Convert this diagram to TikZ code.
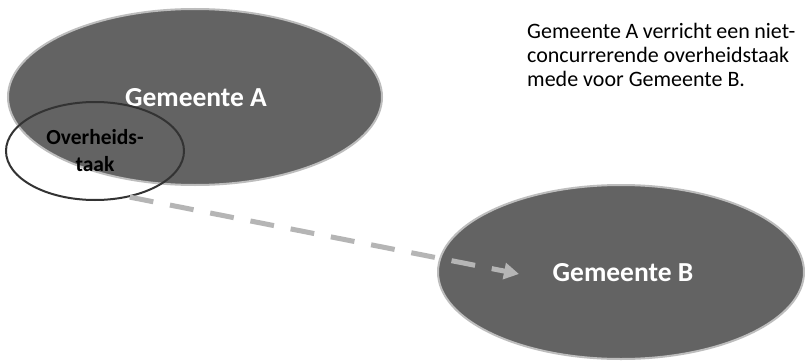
\documentclass[tikz,border=0pt]{standalone}
\usepackage{fontspec}
\setmainfont{Carlito}
\usetikzlibrary{shapes.geometric,arrows.meta}
\definecolor{ellfill}{HTML}{636363}
\definecolor{ellborder}{HTML}{BDBDBD}
\definecolor{arrgray}{HTML}{B5B5B5}
\tikzset{
  gemeente/.style={ellipse, draw=ellborder, line width=2pt, fill=ellfill, inner sep=0pt},
  gemlabel/.style={text=white, font=\bfseries\fontsize{27.5}{30}\selectfont},
  taakring/.style={ellipse, draw=black!80, line width=2pt, inner sep=0pt, align=center,
    font=\bfseries\fontsize{21.5}{27}\selectfont},
  flow/.style={draw=arrgray, line width=5pt, dash pattern=on 24pt off 17pt,
    -{Triangle[length=15pt,width=16pt]}},
  note/.style={align=left, inner sep=0pt, anchor=base west,
    font=\fontsize{22}{24}\selectfont}
}
\begin{document}
\begin{tikzpicture}[x=1pt,y=-1pt]
\useasboundingbox[fill=white] (0,0) rectangle (805,361);
\node[gemeente, minimum width=374pt, minimum height=176pt] (A) at (195,97) {};
\node[gemlabel] (Alab) at (196,98) {Gemeente A};
\node[gemeente, minimum width=366pt, minimum height=174pt] (B) at (621,272) {};
\node[gemlabel] (Blab) at (623,273) {Gemeente B};
\node[taakring, minimum width=178pt, minimum height=98pt] (ov) at (95,151) {Overheids-\\taak};
\coordinate (tip) at (519,274);
\draw[flow] (ov.-53) -- (tip);
\node[note] (txt) at (527,86) {\makebox[268pt][s]{Gemeente A verricht een niet-}\\concurrerende overheidstaak\\mede voor Gemeente B.};
\end{tikzpicture}
\end{document}
